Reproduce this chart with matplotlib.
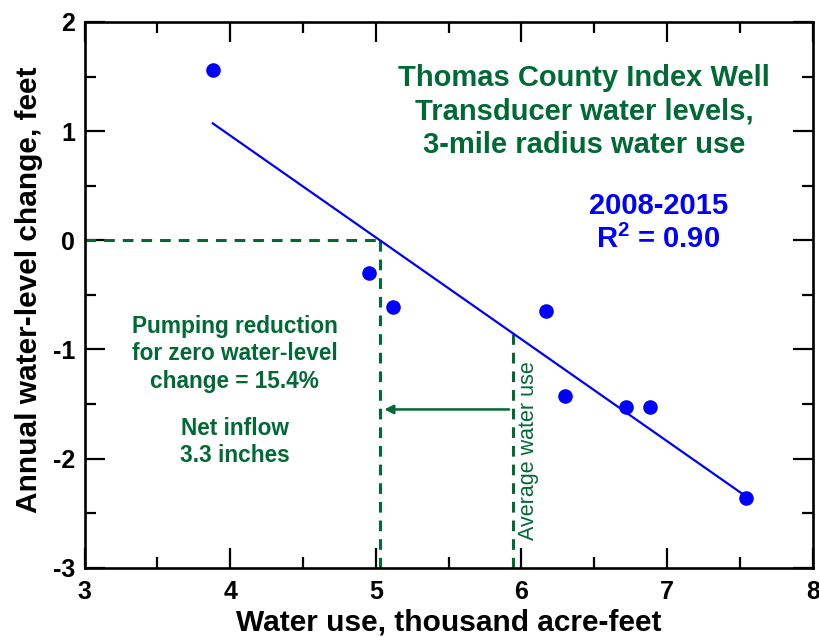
import numpy as np
import matplotlib.pyplot as plt
from matplotlib.ticker import MultipleLocator

# water use (thousand acre-feet) vs annual water-level change (feet), 2008-2015
water_use = [3.88, 4.95, 5.12, 6.17, 6.30, 6.72, 6.88, 7.54]
wl_change = [1.56, -0.30, -0.61, -0.65, -1.43, -1.53, -1.53, -2.36]

title_lines = ["Thomas County Index Well", "Transducer water levels,", "3-mile radius water use"]
period_label = "2008-2015"
r2_label = r"R$^{\mathbf{2}}$ = 0.90"
pumping_note = "Pumping reduction\nfor zero water-level\nchange = 15.4%"
inflow_note = "Net inflow\n3.3 inches"

GREEN = '#006a35'
BLUE = '#0000ff'

plt.rcParams['font.family'] = ['Liberation Sans', 'DejaVu Sans']
plt.rcParams['font.weight'] = 'bold'
plt.rcParams['axes.unicode_minus'] = False
plt.rcParams['mathtext.fontset'] = 'custom'
plt.rcParams['mathtext.rm'] = 'Liberation Sans:bold'
plt.rcParams['mathtext.bf'] = 'Liberation Sans:bold'

x = np.array(water_use)
y = np.array(wl_change)
slope, intercept = np.polyfit(x, y, 1)
x_zero = -intercept / slope
x_avg = x.mean()
y_avg = slope * x_avg + intercept

fig = plt.figure(figsize=(8.19, 6.37), dpi=100)
ax = fig.add_axes([0.1034, 0.1088, 0.8889, 0.8567])

# regression line + points
xs = np.array([x.min(), x.max()])
ax.plot(xs, slope * xs + intercept, color=BLUE, lw=1.6, zorder=3)
ax.plot(x, y, 'o', color=BLUE, ms=10.5, mec='none', zorder=4)

# dashed guides: zero crossing and average water use
dash = (0, (3.5, 2.6))
ax.plot([3, x_zero], [0, 0], color=GREEN, lw=2.2, ls=dash, zorder=2)
ax.plot([x_zero, x_zero], [-3, 0], color=GREEN, lw=2.2, ls=dash, zorder=2)
ax.plot([x_avg, x_avg], [-3, y_avg], color=GREEN, lw=2.2, ls=dash, zorder=2)

ax.annotate('', xy=(x_zero + 0.03, -1.55), xytext=(x_avg - 0.03, -1.55),
            arrowprops=dict(arrowstyle='-|>', color=GREEN, lw=1.8,
                            mutation_scale=13, shrinkA=0, shrinkB=0))
ax.text(x_avg + 0.1, -1.93, "Average water use", rotation=90, color=GREEN,
        fontsize=15.5, fontweight='normal', ha='center', va='center')

ax.text(6.43, 1.18, "\n".join(title_lines), color=GREEN, fontsize=21,
        fontweight='bold', ha='center', va='center', linespacing=1.25)
ax.text(6.94, 0.156, period_label + "\n" + r2_label, color=BLUE, fontsize=21,
        fontweight='bold', ha='center', va='center', linespacing=1.2)
ax.text(4.03, -1.04, pumping_note, color=GREEN, fontsize=16.3,
        fontweight='bold', ha='center', va='center', linespacing=1.25)
ax.text(4.03, -1.85, inflow_note, color=GREEN, fontsize=16.3,
        fontweight='bold', ha='center', va='center', linespacing=1.25)

ax.set_xlim(3, 8)
ax.set_ylim(-3, 2)
ax.xaxis.set_major_locator(MultipleLocator(1))
ax.xaxis.set_minor_locator(MultipleLocator(0.5))
ax.yaxis.set_major_locator(MultipleLocator(1))
ax.yaxis.set_minor_locator(MultipleLocator(0.5))
ax.tick_params(which='both', direction='in', top=True, right=True, width=1.6)
ax.tick_params(which='major', length=14.5)
ax.tick_params(which='minor', length=8)
ax.tick_params(axis='x', which='major', pad=9, labelsize=18)
ax.tick_params(axis='y', which='major', pad=7, labelsize=18)
for sp in ax.spines.values():
    sp.set_linewidth(1.9)

ax.set_xlabel("Water use, thousand acre-feet", fontsize=21.5, fontweight='bold')
ax.set_ylabel("Annual water-level change, feet", fontsize=21.5, fontweight='bold')
ax.xaxis.set_label_coords(0.5, -0.075)
ax.yaxis.set_label_coords(-0.057, 0.509)

fig.savefig('out.png', dpi=100)
